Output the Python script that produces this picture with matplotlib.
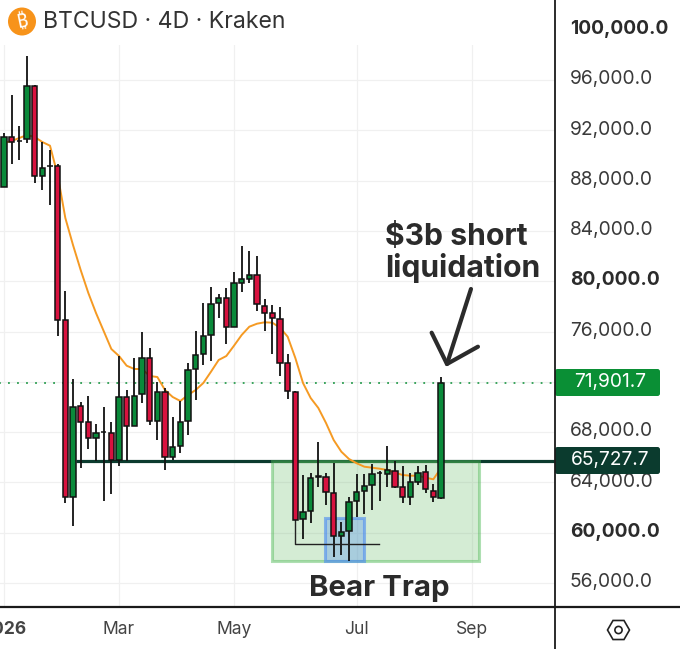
import numpy as np
import matplotlib
matplotlib.use("Agg")
import matplotlib.pyplot as plt
from matplotlib.patches import Rectangle, Circle, RegularPolygon, FancyBboxPatch
from matplotlib.transforms import ScaledTranslation

plt.rcParams['font.family'] = ['Inter', 'DejaVu Sans']

opens = [87516,91491,91120,91309,95523,88366,89130,89162,76876,62865,70077,68805,67532,67980,67930,65783,70816,68486,71031,73894,
         68908,71214,66021,66920,68908,73019,74212,75723,78267,78665,76359,79882,80176,80494,78053,77472,76995,73496,71214,61091,
         61727,64430,64431,63159,59763,60161,62546,63342,63795,64720,64670,64932,63636,62865,64057,64829,63342,62785]
closes = [91491,91070,91180,95523,88366,89003,89190,76876,62865,70021,68828,67532,67930,68040,65783,70816,68486,70896,73894,68908,
          71214,66021,66840,68805,72940,74132,75667,78188,78665,76359,79858,80176,80494,78188,77496,77075,73520,71293,61012,61648,
          64351,64480,63262,59739,60081,62467,63238,63715,64670,64780,64988,63660,62865,64033,64773,63477,62865,71901.7]
highs = [91786,94808,92342,97909,95603,91070,90434,89300,79222,72224,70419,70896,68646,69997,68828,74053,71349,73918,75985,74689,
         72009,71508,69226,70474,73496,76065,78291,79540,78983,79460,80756,82800,82426,82005,78586,78108,77973,74212,71300,64590,
         64749,67238,64749,65544,60853,62865,64670,64670,65465,64908,66896,65727,65306,64749,65306,65385,63874,72383]
lows = [87492,89321,89639,90991,87810,87253,86060,75643,62363,60534,65147,66658,65727,62522,63079,65306,65727,68486,70339,68566,
        67373,64988,65783,66339,67771,70554,73337,73679,77075,75007,76359,79166,79882,77655,76041,74212,72462,70634,61012,59501,
        60773,63660,62204,58093,58228,57751,61274,61489,61807,62522,63660,63580,62387,62204,63795,63159,62467,62700]
ma20 = [91000,91150,91388,91627,91468,91070,90776,88446,85027,82880,80892,79063,77472,76041,74610,74053,73281,73019,73019,72462,
        72383,71349,70793,70474,70952,71349,71906,72804,73735,74053,74872,75723,76383,76621,76733,76701,76303,75588,73894,71906,
        70713,69918,68725,67373,66443,65862,65521,65250,65171,65091,64988,64773,64590,64534,64534,64375,64248,65147]

last_price = 71901.7
level_price = 65727.7
price_ticks = list(range(56000, 100001, 4000))
hidden_ticks = [72000]
bold_ticks = [60000, 80000, 100000]
month_labels = ['2026', 'Mar', 'May', 'Jul', 'Sep']
month_bars = [0, 15, 30, 46, 61]

GREEN, RED = '#0a8a3a', '#d8123f'
W, H = 680, 649

fig = plt.figure(figsize=(6.8, 6.49), dpi=100, facecolor='white')
ax = fig.add_axes([0, (H-607)/H, 555/W, 607/H])
ax.set_xlim(-0.5217, 71.87)
ax.set_ylim(54093, 102362)
ax.set_axisbelow(True)
ax.grid(True, color='#f0f0f0', lw=0.9)
for s in ax.spines.values():
    s.set_visible(False)

bars = np.arange(len(opens))
o, c, h, l = map(np.array, (opens, closes, highs, lows))

# annotation zones and level
ax.hlines(last_price, -1, 72, color='#2a9d50', lw=1.3, linestyles=(0, (1, 4)), zorder=2)
ax.hlines(level_price, 9.39, 72, color='#0b3b2e', lw=2.3, zorder=2)
ax.add_patch(Rectangle((34.95, 57712), 27.0, level_price-57712, fc=(0.30, 0.69, 0.31, 0.24),
                       ec=(0.30, 0.72, 0.33, 0.45), lw=2.2, zorder=3))
ax.add_patch(Rectangle((41.87, 57712), 5.12, 61171-57712, fc=(0.30, 0.55, 0.95, 0.32),
                       ec=(0.30, 0.55, 0.95, 0.6), lw=2.2, zorder=3.1))

ax.plot(bars, ma20, color='#f59a23', lw=1.4, zorder=3.5, solid_joinstyle='round')

ax.vlines(bars, l, h, color='#111111', lw=1.3, zorder=4)
up = c >= o
ax.bar(bars, np.abs(c-o), bottom=np.minimum(o, c), width=0.68,
       color=[GREEN if u else RED for u in up], edgecolor='#111111', lw=1.1, zorder=5)

# stop-hunt marker
ax.plot([38, 38, 48.9], [61012, 59103, 59103], color='#222222', lw=1.0, zorder=4.5)

# hand-drawn arrow
arrow_kw = dict(color='#2b2b2b', lw=3.0, solid_capstyle='round', solid_joinstyle='round', zorder=6)
ax.plot([60.91, 57.78], [79381, 73417], **arrow_kw)
ax.plot([55.78, 57.78, 61.82], [75906, 73417, 74793], **arrow_kw)

# axes
ax.set_xticks(month_bars)
ax.set_xticklabels(month_labels, fontsize=12.6, color='#444444')
ax.tick_params(axis='x', length=0, pad=10)
ax.get_xticklabels()[0].set_fontweight('bold')
ax.yaxis.tick_right()
ax.set_yticks(price_ticks)
ax.set_yticklabels(['' if t in hidden_ticks else f'{t:,.1f}' for t in price_ticks], fontsize=13.8, color='#3a3a3a')
ax.tick_params(axis='y', length=0, pad=10.6)
off = ScaledTranslation(0, 2/72, fig.dpi_scale_trans)
for t, lab in zip(price_ticks, ax.get_yticklabels()):
    lab.set_transform(lab.get_transform() + off)
    if t in bold_ticks:
        lab.set_fontweight('bold')
        lab.set_color('#2b2b2b')

# chrome overlay in pixel coordinates
ov = fig.add_axes([0, 0, 1, 1], zorder=10)
ov.set_xlim(0, W); ov.set_ylim(H, 0); ov.axis('off')
ov.add_patch(Rectangle((0, 0), 554, 45, fc='white', ec='none'))
ov.plot([555, 555], [0, H], color='#1a1a1a', lw=1.3)
ov.plot([0, W], [607, 607], color='#1a1a1a', lw=1.6)
ov.add_patch(Circle((22, 21.5), 14, fc='#f7931a', ec='none'))
ov.text(22, 22, '₿', color='white', fontsize=14, fontweight='bold', ha='center', va='center',
        family=['Noto Sans', 'Roboto', 'Open Sans', 'Lato', 'Liberation Sans', 'DejaVu Sans'], rotation=12)
ov.text(43, 22.5, 'BTCUSD · 4D · Kraken', fontsize=16.6, color='#333333', ha='left', va='center')

ov.add_patch(FancyBboxPatch((555, 369), 105, 27, boxstyle='round,pad=0,rounding_size=2.5', fc='#0a8f35', ec='none'))
ov.text(610, 382.5, f'{last_price:,.1f}', color='white', fontsize=13.8, ha='center', va='center')
ov.add_patch(FancyBboxPatch((555, 447), 105, 27, boxstyle='round,pad=0,rounding_size=2.5', fc='#0b3b2e', ec='none'))
ov.text(610, 459.5, f'{level_price:,.1f}', color='white', fontsize=13.8, ha='center', va='center')

ov.text(385, 237, '$3b short', fontsize=21.7, fontweight='bold', color='#2b2b2b', ha='left', va='center')
ov.text(385, 268, 'liquidation', fontsize=21.7, fontweight='bold', color='#2b2b2b', ha='left', va='center')
ov.text(379, 588, 'Bear Trap', fontsize=21.2, fontweight='bold', color='#2b2b2b', ha='center', va='center')

ov.add_patch(RegularPolygon((618.5, 630), 6, radius=11, orientation=np.pi/6, fc='none', ec='#222222', lw=1.2))
ov.add_patch(Circle((618.5, 630), 3.6, fc='none', ec='#222222', lw=1.2))

fig.savefig('out.png', dpi=100)
